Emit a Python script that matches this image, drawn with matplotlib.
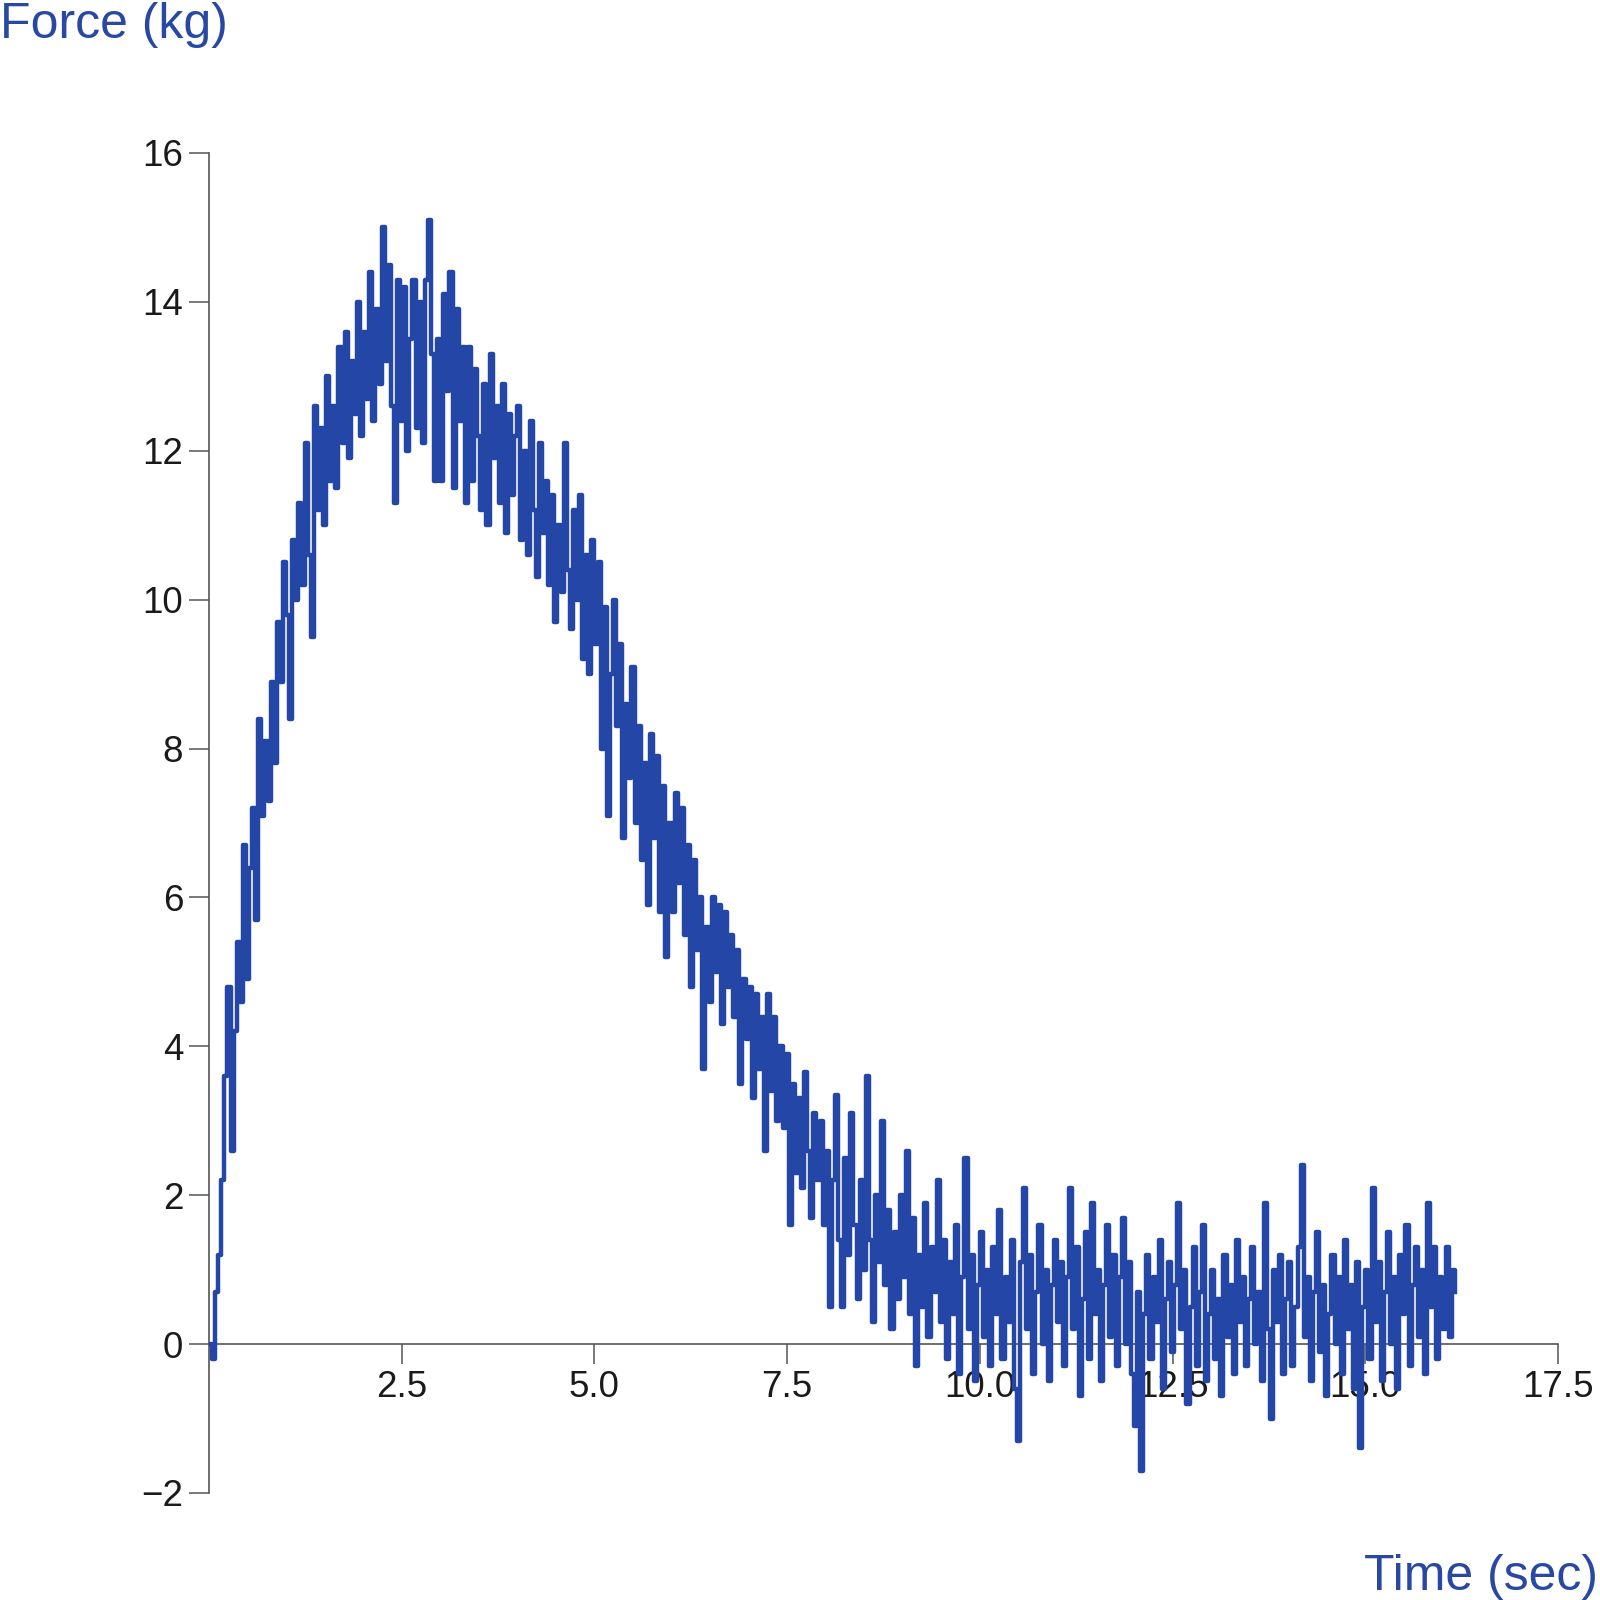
import numpy as np
import matplotlib
matplotlib.use("Agg")
import matplotlib.pyplot as plt

plt.rcParams["font.family"] = ["Liberation Sans", "DejaVu Sans"]

# sampling of the force trace (seconds)
dt = 0.04

# force readings (kg), one row per second of recording
force = [
    0.0, -0.2, 0.7, 1.2, 2.2, 3.6, 4.8, 2.6, 4.2, 5.4, 4.6, 6.7, 4.9, 6.4, 7.2, 5.7, 8.4, 7.1, 8.1, 7.3, 8.9, 7.8, 9.7, 8.9, 10.5,
    9.8, 8.4, 10.8, 10.0, 11.3, 10.2, 12.1, 10.6, 9.5, 12.6, 11.2, 12.3, 11.0, 13.0, 11.6, 12.6, 11.5, 13.4, 12.1, 13.6, 11.9, 13.2, 12.5, 14.0, 12.2,
    13.6, 12.7, 14.4, 12.4, 13.9, 12.9, 15.0, 13.2, 14.5, 12.6, 11.3, 14.3, 12.4, 14.2, 12.0, 13.5, 14.3, 12.3, 14.0, 12.1, 14.3, 15.1, 13.3, 11.6, 13.5,
    11.6, 14.1, 12.8, 14.4, 11.5, 13.9, 12.4, 13.4, 11.3, 13.4, 11.6, 13.1, 12.2, 11.2, 12.9, 11.0, 13.3, 11.9, 12.6, 11.3, 12.9, 10.9, 12.5, 11.4, 12.2,
    12.6, 10.8, 12.0, 10.6, 12.4, 11.2, 10.3, 12.1, 10.9, 11.6, 10.2, 11.4, 9.7, 11.0, 10.1, 12.1, 10.4, 9.6, 11.2, 10.0, 11.4, 9.2, 10.6, 9.0, 10.8,
    9.4, 10.5, 8.0, 9.9, 7.1, 9.0, 10.0, 8.3, 9.4, 6.8, 8.6, 7.6, 9.1, 7.0, 8.3, 6.5, 7.8, 5.9, 8.2, 6.8, 7.9, 5.8, 7.5, 5.2, 7.0,
    5.8, 7.4, 6.2, 7.2, 5.5, 6.7, 4.8, 6.5, 5.3, 6.0, 3.7, 5.6, 4.6, 6.0, 5.0, 5.9, 4.3, 5.8, 4.8, 5.5, 4.4, 5.3, 3.5, 4.9, 4.1,
    4.8, 3.3, 4.7, 3.7, 4.4, 2.6, 4.7, 3.4, 4.4, 3.0, 4.0, 2.9, 3.9, 1.6, 3.5, 2.3, 3.3, 2.1, 3.65, 2.6, 1.7, 3.1, 2.2, 3.0, 1.6,
    2.6, 0.5, 2.2, 3.35, 1.4, 0.5, 2.5, 1.2, 3.1, 1.6, 0.6, 2.2, 1.0, 3.6, 1.4, 0.3, 2.0, 1.1, 3.0, 0.8, 1.8, 0.2, 1.5, 0.6, 2.0,
    0.9, 2.6, 0.4, 1.7, -0.3, 1.2, 0.5, 1.9, 0.1, 1.3, 0.7, 2.2, 0.3, 1.4, -0.2, 1.1, 0.4, 1.6, -0.4, 0.9, 2.5, 0.2, 1.2, -0.5, 0.8,
    1.5, 0.1, 1.0, -0.3, 1.3, 0.4, 1.8, -0.2, 0.9, 0.3, 1.4, -0.6, -1.3, 1.1, 2.1, 0.2, 1.2, -0.4, 0.7, 1.6, 0.0, 1.0, -0.5, 0.8, 1.4,
    0.3, 1.1, -0.3, 0.9, 2.1, 0.2, 1.3, -0.7, 0.6, 1.5, -0.2, 1.9, 0.4, 1.0, -0.5, 0.8, 1.6, 0.1, 1.2, -0.3, 0.9, 1.7, 0.0, 1.1, -0.4,
    -1.1, 0.7, -1.7, 0.4, 1.2, -0.2, 0.9, 0.3, 1.4, -0.6, 0.6, 1.1, -0.1, 0.8, 1.9, 0.2, 1.0, -0.8, 0.5, 1.3, -0.3, 0.7, 1.6, -0.5, 0.4,
    1.0, -0.2, 0.6, -0.7, 1.2, 0.1, 0.8, -0.4, 1.4, 0.3, 0.9, -0.3, 0.6, 1.3, 0.0, 0.7, -0.5, 1.9, 0.2, -1.0, 1.0, 0.3, 1.2, -0.4, 0.6,
    1.1, -0.3, 0.5, 1.3, 2.4, 0.1, 0.9, -0.5, 0.7, 1.5, -0.1, 0.8, -0.7, 0.4, 1.2, 0.0, 0.9, -0.4, 1.4, 0.2, 0.8, -0.6, 1.1, -1.4, 0.5,
    1.0, -0.2, 2.1, 0.3, 1.1, -0.5, 0.7, 1.5, 0.0, 0.9, -0.6, 1.2, 0.4, 1.6, -0.3, 0.8, 1.3, 0.1, 1.0, -0.4, 1.9, 0.5, 1.3, -0.2, 0.9,
    0.2, 1.3, 0.1, 1.0, 0.7,
]
time = np.arange(len(force)) * dt

x_ticks = [2.5, 5.0, 7.5, 10.0, 12.5, 15.0, 17.5]
y_ticks = [-2, 0, 2, 4, 6, 8, 10, 12, 14, 16]

line_col = "#2446a6"
label_col = "#2848a4"
axis_col = "#555555"

fig = plt.figure(figsize=(16, 16), dpi=100)
ax = fig.add_axes([0.1306, 0.0669, 0.8432, 0.8375])

ax.plot(time, force, color=line_col, linewidth=3.2, drawstyle="steps-post", zorder=3)

ax.set_xlim(0, 17.5)
ax.set_ylim(-2, 16)
ax.set_xticks(x_ticks)
ax.set_xticklabels([f"{v:.1f}" for v in x_ticks])
ax.set_yticks(y_ticks)

for side in ["top", "right"]:
    ax.spines[side].set_visible(False)
ax.spines["left"].set_position(("data", 0))
ax.spines["bottom"].set_position(("data", 0))
for side in ["left", "bottom"]:
    ax.spines[side].set_color(axis_col)
    ax.spines[side].set_linewidth(1.2)

ax.tick_params(axis="both", direction="out", length=14.5, width=1.1,
               color=axis_col, labelsize=26.5, labelcolor="#1a1a1a", pad=4)

fig.text(0.0, 0.999, "Force (kg)", ha="left", va="top", fontsize=36, color=label_col)
fig.text(0.999, 0.006, "Time (sec)", ha="right", va="baseline", fontsize=36, color=label_col)

fig.savefig("out.png", dpi=100)
plt.close(fig)
